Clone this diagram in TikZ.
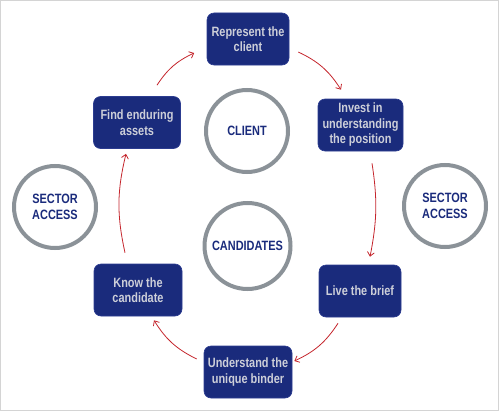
\documentclass[tikz,border=0pt]{standalone}
\usepackage{fontspec}
\setmainfont{Liberation Sans}[FakeStretch=0.81]
\usetikzlibrary{arrows.meta}
\definecolor{navy}{HTML}{1A2B7C}
\definecolor{navyedge}{HTML}{2C3C90}
\definecolor{boxtext}{HTML}{CDCFD9}
\definecolor{ringgray}{HTML}{8B9298}
\definecolor{arrred}{HTML}{C4252C}
\definecolor{framegray}{HTML}{D4D4D4}
\begin{document}
\begin{tikzpicture}[x=1pt,y=-1pt,
  stepbox/.style={draw=navyedge,line width=0.6pt,fill=navy,rounded corners=7pt,
    text=boxtext,font=\fontsize{13.5}{15.5}\selectfont\bfseries,align=center,
    minimum height=52pt,inner sep=2pt},
  ring/.style={circle,draw=ringgray,line width=4pt,fill=white,minimum size=82pt,
    text=navy,font=\fontsize{13.5}{15.5}\selectfont\bfseries,align=center,inner sep=0pt},
  flow/.style={draw=arrred,line width=0.8pt,-{Straight Barb[length=4pt,width=7pt]}}]
\useasboundingbox (0,0) rectangle (500,412);
\draw[framegray,line width=1pt] (0.5,0.5) rectangle (498,410);

\node[stepbox,minimum width=82pt] (rep) at (248,39) {Represent the\\client};
\node[stepbox,minimum width=87pt] (find) at (137,122.5) {Find enduring\\assets};
\node[stepbox,minimum width=85pt] (inv) at (360.5,125) {Invest in\\understanding\\the position};
\node[stepbox,minimum width=82pt] (live) at (360,291) {Live the brief};
\node[stepbox,minimum width=88pt] (know) at (138,290) {Know the\\candidate};
\node[stepbox,minimum width=88pt] (und) at (248,372) {Understand the\\unique binder};

\node[ring] (client) at (247,131) {CLIENT};
\node[ring,minimum size=86pt] (cand) at (247.5,246) {CANDIDATES};
\node[ring] (secl) at (55,207) {SECTOR\\ACCESS};
\node[ring] (secr) at (445,206) {SECTOR\\ACCESS};

\draw[flow] ([shift={(20,-11)}]find.north) to[bend left=16] ([shift={(-12.5,14)}]rep.west);
\draw[flow] ([shift={(9,13)}]rep.east) to[bend left=16] ([shift={(-19.5,-9)}]inv.north);
\draw[flow] ([shift={(11.5,12)}]inv.south) to[bend left=10] ([shift={(10,-8)}]live.north);
\draw[flow] ([shift={(-22,6)}]live.south) to[bend left=16] ([shift={(2,-11)}]und.east);
\draw[flow] ([shift={(-7,-13)}]und.west) to[bend left=16] ([shift={(16,4)}]know.south);
\draw[flow] ([shift={(-13,-11)}]know.north) to[bend left=13] ([shift={(-11,5)}]find.south);
\end{tikzpicture}
\end{document}
